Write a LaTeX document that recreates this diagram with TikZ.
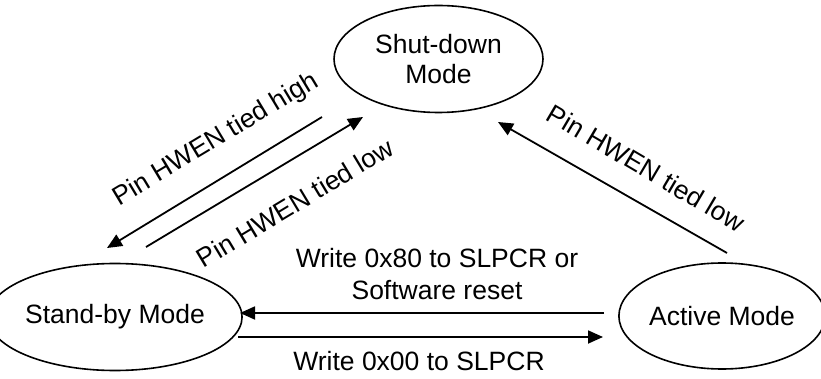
\documentclass[tikz,border=0pt]{standalone}
\usepackage{fontspec}
\setmainfont{Liberation Sans}
\usetikzlibrary{shapes.geometric,arrows.meta}
\begin{document}
\begin{tikzpicture}[x=1pt,y=-1pt,
  state/.style={draw,ellipse,line width=1.6pt,inner sep=0pt,align=center,
    font=\fontsize{26.5}{30}\selectfont},
  lbl/.style={inner sep=0pt,align=center,font=\fontsize{26.5}{32}\selectfont},
  arr/.style={line width=1.8pt,-{Triangle[length=15pt,width=13pt]}}]
\useasboundingbox (0,0) rectangle (821,379);
\node[state,minimum width=209pt,minimum height=107pt] (sd) at (438.5,59) {Shut-down\\Mode};
\node[state,minimum width=206pt,minimum height=107pt] (sb) at (115,317) {Stand-by Mode};
\node[state,minimum width=196pt,minimum height=106pt] (ac) at (722,316) {Active Mode};
% connector end points
\coordinate (h1) at (322,117);
\coordinate (h2) at (107,248);
\coordinate (l1) at (146,247);
\coordinate (l2) at (363,117);
\coordinate (r1) at (727,253);
\coordinate (r2) at (498,122);
\coordinate (u1) at (604,313);
\coordinate (u2) at (240,313);
\coordinate (d1) at (238,337);
\coordinate (d2) at (603,337);
\draw[arr] (h1) -- (h2);
\draw[arr] (l1) -- (l2);
\draw[arr] (r1) -- (r2);
\draw[arr] (u1) -- (u2);
\draw[arr] (d1) -- (d2);
% labels
\node[lbl,rotate=31] (th) at (216,140) {Pin HWEN tied high};
\node[lbl,rotate=31] (tl) at (295,203) {Pin HWEN tied low};
\node[lbl,rotate=-30.5] (tr) at (646,168) {Pin HWEN tied low};
\node[lbl] (tu) at (437,274.5) {Write 0x80 to SLPCR or\\Software reset};
\node[lbl,anchor=base] (td) at (419,370) {Write 0x00 to SLPCR};
\end{tikzpicture}
\end{document}
